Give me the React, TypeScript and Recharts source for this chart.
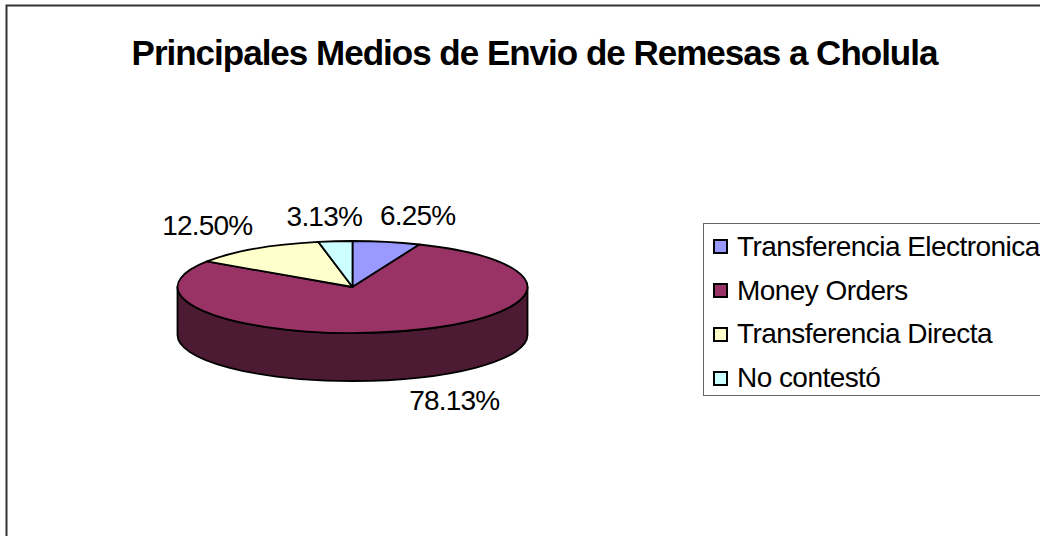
import React from "react";
import { PieChart, Pie, Legend } from "recharts";

const categories = ["Transferencia Electronica", "Money Orders", "Transferencia Directa", "No contestó"];
const shares = [6.25, 78.13, 12.5, 3.13];
const colors = ["#9999FF", "#993366", "#FFFFCC", "#CCFFFF"];
const sideColors = ["#4D4D80", "#4D1A33", "#808066", "#668080"];
const title = "Principales Medios de Envio de Remesas a Cholula";

const rows = categories.map((name, i) => ({ name, value: shares[i], fill: colors[i], side: sideColors[i] }));

const SQUASH = 46 / 175;
const DEPTH = 48;
const FONT = "'Liberation Sans', Arial, sans-serif";
const labelNudge = [
  [31, -26],
  [51, 69],
  [-48, -23],
  [-11, -25],
];

const pt = (cx: number, cy: number, r: number, deg: number, drop = 0) => {
  const a = (deg * Math.PI) / 180;
  return [cx + r * Math.cos(a), cy - r * SQUASH * Math.sin(a) + drop];
};

function Slice3D(props: any) {
  const { cx, cy, outerRadius: r, startAngle, endAngle, fill, side } = props;
  const ry = r * SQUASH;
  const [x0, y0] = pt(cx, cy, r, startAngle);
  const [x1, y1] = pt(cx, cy, r, endAngle);
  const large = Math.abs(startAngle - endAngle) > 180 ? 1 : 0;
  const top = `M${cx},${cy}L${x0},${y0}A${r},${ry} 0 ${large} 1 ${x1},${y1}Z`;
  // front wall: the part of the slice running through the lower half (angles -180..0)
  const from = Math.min(startAngle, 0);
  const to = Math.max(endAngle, -180);
  let wall = null;
  if (from > to) {
    const [a0, b0] = pt(cx, cy, r, from);
    const [a1, b1] = pt(cx, cy, r, to);
    const d =
      `M${a0},${b0}A${r},${ry} 0 0 1 ${a1},${b1}` +
      `L${a1},${b1 + DEPTH}A${r},${ry} 0 0 0 ${a0},${b0 + DEPTH}Z`;
    wall = <path d={d} fill={side} stroke="#000" strokeWidth={1.8} strokeLinejoin="round" />;
  }
  return (
    <g>
      {wall}
      <path d={top} fill={fill} stroke="#000" strokeWidth={1.8} strokeLinejoin="round" />
    </g>
  );
}

function SliceLabel(props: any) {
  const { cx, cy, outerRadius: r, midAngle, index, value } = props;
  const [x, y] = pt(cx, cy, r, midAngle);
  const [dx, dy] = labelNudge[index];
  return (
    <text
      x={x + dx}
      y={y + dy}
      textAnchor="middle"
      dominantBaseline="central"
      fontFamily={FONT}
      fontSize={28}
      letterSpacing={-0.8}
      fill="#000"
    >
      {value.toFixed(2)}%
    </text>
  );
}

function LegendBox() {
  return (
    <div
      style={{
        width: 345,
        height: 173,
        border: "1.5px solid #666",
        boxSizing: "border-box",
        background: "#fff",
        fontFamily: FONT,
        fontSize: 28,
        letterSpacing: -0.55,
        color: "#000",
        paddingTop: 1,
      }}
    >
      {categories.map((c, i) => (
        <div key={c} style={{ height: 43.8, display: "flex", alignItems: "center", whiteSpace: "nowrap" }}>
          <span
            style={{
              display: "inline-block",
              width: 15,
              height: 15,
              marginLeft: 9,
              marginRight: 9,
              border: "2px solid #000",
              boxSizing: "border-box",
              background: colors[i],
              flex: "none",
            }}
          />
          {c}
        </div>
      ))}
    </div>
  );
}

export default function App() {
  return (
    <div style={{ position: "absolute", left: 0, top: 0, width: 1040, height: 536, overflow: "hidden", background: "#fff" }}>
      <PieChart width={1040} height={536} margin={{ top: 0, right: 0, bottom: 0, left: 0 }}>
        <rect x={6.5} y={5.5} width={1200} height={800} fill="#fff" stroke="#333" strokeWidth={2} />
        <text
          x={534.5}
          y={52}
          textAnchor="middle"
          dominantBaseline="central"
          fontFamily={FONT}
          fontWeight={700}
          fontSize={35}
          letterSpacing={-1}
          fill="#000"
        >
          {title}
        </text>
        <Pie
          data={rows}
          dataKey="value"
          nameKey="name"
          cx={352.5}
          cy={287}
          innerRadius={0}
          outerRadius={175}
          startAngle={90}
          endAngle={-270}
          paddingAngle={0}
          isAnimationActive={false}
          shape={Slice3D}
          label={SliceLabel}
          labelLine={false}
        />
        <Legend
          layout="vertical"
          content={() => <LegendBox />}
          wrapperStyle={{ position: "absolute", left: 703, top: 223, width: 345, bottom: "auto", right: "auto" }}
        />
      </PieChart>
    </div>
  );
}
